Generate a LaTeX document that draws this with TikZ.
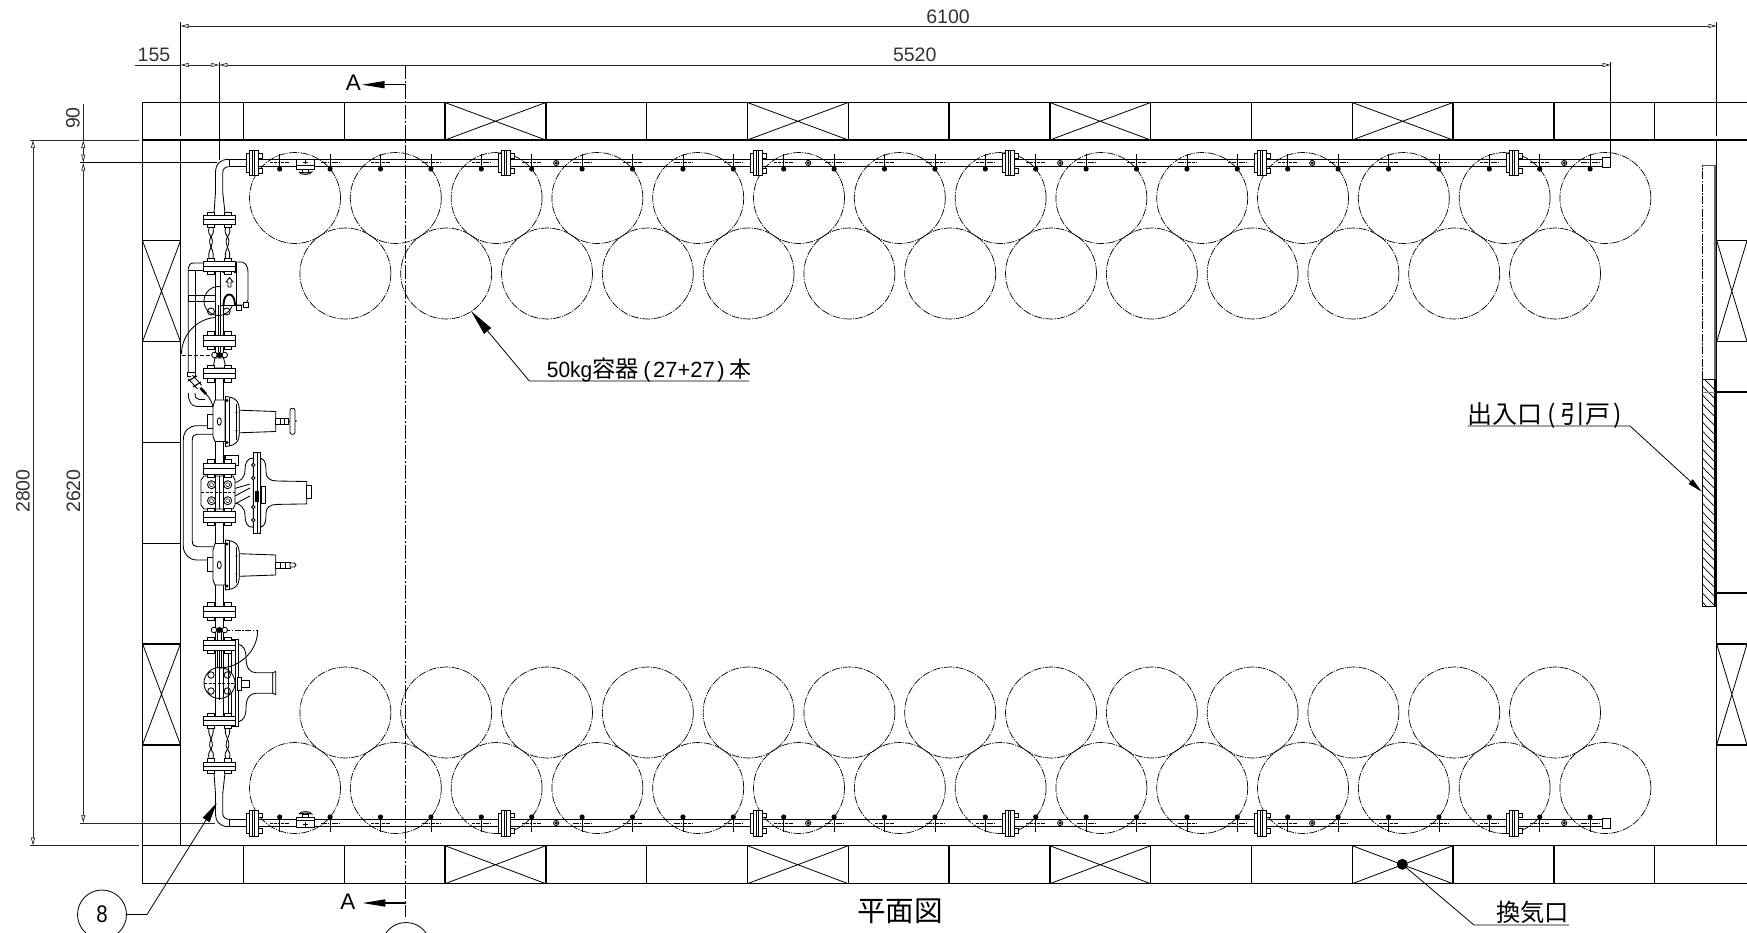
\documentclass[tikz,border=0pt]{standalone}
\usepackage{fontspec}
\usepackage{graphicx}
\setmainfont{Liberation Sans}
\newfontfamily\cjk{Noto Sans CJK JP}
\usetikzlibrary{arrows.meta}
\tikzset{
  wall/.style={line width=1.4pt,black},
  part/.style={line width=.85pt,black},
  dimln/.style={line width=.7pt,black!85},
  cylinder line/.style={line width=.7pt,black,dash pattern=on 8pt off 1.2pt on 1.2pt off 1.2pt},
  dimtip/.style={{Triangle[open,length=8pt,width=4pt]}-{Triangle[open,length=8pt,width=4pt]}},
  leader/.style={line width=.8pt,black},
  dimtext/.style={inner sep=0pt,font=\fontsize{19.5pt}{20pt}\selectfont,text=black!80},
  jptext/.style={inner sep=0pt,anchor=base west}
}
% ---- one wall X vent
\newcommand{\ventbox}[4]{\draw[line width=.8pt] (#1,#2)--(#3,#4) (#1,#4)--(#3,#2);}
% ---- flange on the long header
\newcommand{\hflange}[1]{%
  \draw[part,fill=white] (#1-7,153) rectangle (#1-4.3,172.5);
  \draw[part,fill=white] (#1+4.3,153) rectangle (#1+9,158);
  \draw[part,fill=white] (#1+4.3,168.5) rectangle (#1+9,173);
  \draw[part,fill=white] (#1-4.3,150) rectangle (#1+4.3,175.7);
  \draw[part] (#1-1,150)--(#1-1,175.7) (#1+1,150)--(#1+1,175.7);}
% ---- tee on the header
\newcommand{\htee}[1]{%
  \draw[line width=.75pt] (#1,154)--(#1,170);
  \draw[line width=.85pt,dash pattern=on 3pt off .6pt] (#1-9.3,162.3)--(#1-1.5,162.3) (#1+1.5,162.3)--(#1+9.3,162.3);
  \fill (#1,169) circle[radius=2.6pt];}
% ---- flange across the vertical line
\newcommand{\vfl}[2]{%
  \foreach \n in {211,227.5}{
    \draw[part,fill=white] (\n-3.5,#1-3.5) rectangle (\n+3.5,#1);
    \draw[part,fill=white] (\n-3.5,#2) rectangle (\n+3.5,#2+3.5);}
  \draw[part,fill=white] (203.3,#1) rectangle (235.7,#2);
  \draw[part] (203.3,#1*.5+#2*.5)--(235.7,#1*.5+#2*.5);}
% ---- pressure regulator with spring case
\newcommand{\smallreg}[1]{%
  \draw[part,fill=white] (207,#1-7.5) rectangle (213,#1+6.5);
  \draw[part,fill=white] (215,#1-21.5)--(225,#1-21.5)--(225,#1+20)--(215,#1+20)--(213,#1+15)--(213,#1-15)--cycle;
  \draw[part] (219.3,#1) ellipse[x radius=2pt,y radius=3.7pt];
  \draw[part,fill=white] (239.3,#1-11.3)--(275.7,#1-10)--(275.7,#1+10)--(239.3,#1+11.3)--cycle;
  \draw[part,fill=white] (225.5,#1-25) .. controls (235,#1-24) and (239.3,#1-21) .. (239.3,#1-11) -- (239.3,#1+11) .. controls (239.3,#1+21) and (235,#1+24) .. (225.5,#1+25) -- cycle;
  \draw[part] (229,#1-24)--(229,#1+24) (236,#1-18)--(236,#1+18);
  \fill (227,#1-21) circle[radius=1.7pt] (227,#1+21) circle[radius=1.7pt] (236.5,#1-9) circle[radius=1.2pt] (236.5,#1+9) circle[radius=1.2pt];}
% ---- header pipe, elbow, first flange and flexible tubes
\newcommand{\headerset}{%
  \draw[part] (229,159.3)--(1602.3,159.3) (229,166.7)--(1602.3,166.7);
  \draw[part,fill=white] (1602.3,157.7) rectangle (1610.7,167.7);
  \foreach \k in {0,...,26}{\htee{279.7+50.4*\k}}
  \foreach \k in {0,...,5}{\hflange{253.8+252*\k}}
  \foreach \k in {1,...,5}{
    \draw[part] (253.8+252*\k+50.4,163) circle[radius=2.6pt];
    \fill (253.8+252*\k+50.4,163) circle[radius=1.7pt];}
  \draw[part,fill=white] (296,159) rectangle (314.5,169);
  \draw[part] (296,165.5)--(314.5,165.5) (305,159.5)--(305,164) (302.5,162)--(307.5,162);
  \draw[part,fill=white] (302,169) rectangle (308,172);
  \draw[part,fill=white] (299,172)..controls (303,173) and (307,173)..(311.7,172)..controls (311.5,175) and (299.5,175.5)..(299,172);
  \draw[part] (229,159.3) .. controls (220,159.3) and (215.5,164) .. (215.5,173) -- (215.5,192) -- (214,213);
  \draw[part] (229,166.7) .. controls (225,166.7) and (222.7,169) .. (222.7,173) -- (222.7,192) -- (225,213);
  \draw[part] (229,159.3)--(229,166.7);
  \foreach \x in {211,227.5}{
    \draw[part] (\x-2,228) .. controls (\x-4,236) and (\x+2.5,236) .. (\x+1.2,243) .. controls (\x,250) and (\x-3,250) .. (\x-2,258);
    \draw[part] (\x+2,228) .. controls (\x+4,236) and (\x-2.5,236) .. (\x-1.2,243) .. controls (\x,250) and (\x+3,250) .. (\x+2,258);}
  \vfl{215.7}{224}}
\begin{document}
\begin{tikzpicture}[x=1pt,y=-1pt]
\useasboundingbox (0,0) rectangle (1747,933);
% ---------- cylinders
\foreach \k in {0,...,13}{
  \draw[cylinder line] (295+100.8*\k,198) circle[radius=45.5pt];
  \draw[cylinder line] (295+100.8*\k,788) circle[radius=45.5pt];}
\foreach \k in {0,...,12}{
  \draw[cylinder line] (345.4+100.8*\k,273.5) circle[radius=45.5pt];
  \draw[cylinder line] (345.4+100.8*\k,712.5) circle[radius=45.5pt];}
% ---------- walls
\draw[wall] (142.5,102.5)--(1747,102.5) (142.5,140)--(1747,140);
\draw[wall] (142.5,845.7)--(1747,845.7) (142.5,883.7)--(1747,883.7);
\draw[wall] (142.5,102.5)--(142.5,883.7) (180.5,140)--(180.5,845.7) (1716.7,140)--(1716.7,845.7);
\foreach \k in {1,...,15}{
  \draw[wall] (142.6+100.8*\k,102.5)--(142.6+100.8*\k,140);
  \draw[wall] (142.6+100.8*\k,845.7)--(142.6+100.8*\k,883.7);}
\foreach \k in {1,...,6}{\draw[wall] (142.5,140+100.8*\k)--(180.5,140+100.8*\k);}
\foreach \k in {3,6,9,12}{
  \ventbox{142.6+100.8*\k}{102.5}{243.4+100.8*\k}{140}
  \ventbox{142.6+100.8*\k}{845.7}{243.4+100.8*\k}{883.7}}
\ventbox{142.5}{240.8}{180.5}{341.6}
\ventbox{142.5}{643.7}{180.5}{744.8}
\foreach \y in {240.7,341.6,392,593,644,744.8}{\draw[wall] (1716.7,\y)--(1747,\y);}
\ventbox{1716.7}{240.7}{1747}{341.6}
\ventbox{1716.7}{644}{1747}{744.8}
% ---------- sliding door
\draw[line width=.7pt,dash pattern=on 8pt off 1.5pt on 1.5pt off 1.5pt] (1702.3,379.3)--(1702.3,165.3);
\draw[line width=.7pt,black!65] (1702.3,165.3)--(1715,165.3);
\draw[line width=1.1pt,black!60] (1715,165.3)--(1715,379.3);
\begin{scope}
  \clip (1702.3,379.3) rectangle (1715,606.7);
  \foreach \k in {0,...,26}{\draw[line width=.7pt] (1702.3,368+9*\k)--(1715,381+9*\k);}
\end{scope}
\draw[wall] (1702.3,379.3) rectangle (1715,606.7);
\draw[line width=.7pt,black!50] (1702.3,392)--(1715,392);
% ---------- header rows
\headerset
\begin{scope}[shift={(0,986)},yscale=-1]
  \headerset
\end{scope}
% ---------- vertical line, pipes at back
\draw[part] (215,271)--(215,717) (223,271)--(223,717);
% pilot tubing
\draw[part] (215,263)--(194,263) .. controls (190.5,263) and (188.3,265) .. (188.3,268) -- (188.3,373);
\draw[part] (215,270)--(195,270)--(195,373) (188.3,270)--(195,270);
\draw[part] (188.3,295)--(215,295) (188.3,301.7)--(215,301.7) (188.3,295)--(188.3,301.7);
% by-pass
\draw[part] (207,425.7)--(197,425.7) .. controls (189,425.7) and (183.3,431) .. (183.3,440) -- (183.3,546) .. controls (183.3,554) and (189,560) .. (197,560) -- (207,560);
\draw[part] (213,434.3)--(197,434.3) .. controls (194,434.3) and (192.3,436) .. (192.3,440) -- (192.3,541) .. controls (192.3,544.5) and (194,546.7) .. (197,546.7) -- (213,546.7);
% strainer
\draw[part,fill=white] (187.5,372) rectangle (195.5,376);
\draw[line width=6.4pt,black] (190.5,377)--(199.5,387);
\draw[line width=4.4pt,white] (190.5,377)--(199.5,387);
\draw[line width=1.1pt] (188,381)--(197,376) (193,387)--(201,382);
\draw[line width=2.6pt] (200.5,388)--(206,394);
\draw[part] (188.3,393) .. controls (188.3,401) and (191,406.5) .. (197,406.5) -- (213,406.5);
\draw[part] (195,393) .. controls (195,397) and (196,399) .. (199,399.5) -- (205,399.5);
\draw[part] (206,394) .. controls (210,398) and (212,402) .. (214,410);
% first group: pilot regulator
\draw[part] (218.5,301) circle[radius=14.5pt];
\draw[part] (211,311.5) circle[radius=3.5pt] (226.7,311.5) circle[radius=3.5pt];
\draw[part,fill=white] (220.5,262) rectangle (236.7,305);
\draw[part] (236.7,262)--(242,262) .. controls (246,263) and (248,267) .. (248,272) -- (248,300) -- (245,305) -- (236.7,305);
\draw[part,fill=white] (236,305) rectangle (241,310);
\draw[part,fill=white] (243,302) rectangle (248,307);
\draw[line width=1.9pt] (223.5,273) .. controls (223.5,258) and (235,258) .. (235,273);
\draw[line width=1.9pt] (223.5,305) .. controls (223.5,291) and (235,291) .. (235,305);
\draw[part,fill=white] (228,287) -- (228,282) -- (226,282) -- (229.5,277.5) -- (233,282) -- (231,282) -- (231,287) -- cycle;
\draw[part] (218,305)--(218,352) (220.5,305)--(220.5,352);
\draw[part] (181.5,354) .. controls (181.5,334) and (198,318) .. (216,317.5);
\draw[line width=.7pt,dash pattern=on 4pt off 2pt] (181.5,355)--(213,355);
\draw[part,fill=white] (215,358)--(223.5,358)--(226,368)--(213,368)--cycle;
\draw[part,fill=white] (214.5,355) circle[radius=2.8pt] (224.7,355) circle[radius=2.8pt];
\fill (219.5,355) circle[radius=3pt];
\vfl{261.7}{271}
\vfl{335}{346}
\vfl{368.5}{378.5}
% upstream and downstream regulators
\smallreg{421.5}
\draw[part,fill=white] (275.7,418) rectangle (288,424.5);
\draw[part] (280,418)--(280,424.5) (284,418)--(284,424.5);
\draw[part,fill=white,rounded corners=2pt] (290,408.3) rectangle (295,434.3);
\fill (296,421) circle[radius=.9pt];
\draw[part] (288,421)--(290,421);
\smallreg{565}
\draw[part,fill=white] (275.7,562) rectangle (290,568);
\draw[part] (280,562)--(280,568) (285,562)--(285,568);
\draw[part,fill=white] (290,563) -- (294.5,563) -- (296,565) -- (294.5,567) -- (290,567) -- cycle;
% main regulator
\draw[part,fill=white] (224,455) rectangle (238.3,465.7);
\draw[line width=1.8pt] (225,455)--(225,465.7);
\draw[part,fill=white] (233,483) .. controls (240,482) and (245,478) .. (245,470) .. controls (245,463) and (247,458) .. (253.3,458)
  -- (253.3,527.4) .. controls (247,527.4) and (245,522.4) .. (245,515.4) .. controls (245,507.4) and (240,503.4) .. (233,502.4) -- cycle;
\draw[part,fill=white] (260.7,458) .. controls (266,460) and (266,466) .. (266,472) .. controls (266,478) and (270,481) .. (277,481) -- (306.7,481.5)
  -- (306.7,503.9) -- (277,504.4) .. controls (270,504.4) and (266,507.4) .. (266,513.4) .. controls (266,519.4) and (266,525.4) .. (260.7,527.4) -- cycle;
\draw[part,fill=white] (306.7,485.7) rectangle (311.7,498.3);
\draw[part,fill=white] (253.3,452.3) rectangle (260.7,533.3);
\draw[part] (257,452.3)--(257,533.3);
\draw[part,fill=white] (261,486) rectangle (265,503);
\fill (255,491) rectangle (259,502);
\draw[part] (233,497)--(250,488) (233,505)--(250,496) (233,489)--(250,484);
\foreach \y in {465,478,507,520}{\draw[part,fill=white] (253.2,\y) circle[radius=1.7pt];}
\draw[part,fill=white] (201,480) -- (204,476) -- (233,476) -- (235,480) -- (235,505) -- (233,509) -- (204,509) -- (201,505) -- cycle;
\foreach \x in {211.5,227.7}{\foreach \y in {484.7,500.7}{
  \draw[part,fill=white] (\x,\y) circle[radius=4pt];
  \draw[line width=.5pt] (\x,\y) circle[radius=2pt];}}
\draw[line width=.6pt,dash pattern=on 3pt off 1.5pt] (201,492.7)--(235,492.7);
\draw[part] (219.5,476)--(219.5,509) (215,476)--(215,509) (223,476)--(223,509);
\vfl{463}{474}
\vfl{511.7}{522.3}
\vfl{606}{617}
% lower regulator
\draw[part,fill=white] (238.3,644) .. controls (244,646) and (246,650) .. (246,658) .. controls (246,668) and (250,672.7) .. (256,672.7) -- (272.7,672.7) -- (272.7,693.3) -- (256,693.3) .. controls (250,693.3) and (246,698) .. (246,708) .. controls (246,716) and (244,720) .. (238.3,722) -- cycle;
\draw[part,fill=white] (272.7,672.7) -- (275.7,671.5) -- (275.7,694.5) -- (272.7,693.3) -- cycle;
\draw[part,fill=white] (231.7,639) rectangle (238.3,726.7);
\draw[part] (235,639)--(235,726.7);
\draw[part,fill=white] (241,680) rectangle (249,687);
\draw[part,fill=white] (237,677) rectangle (241,690);
\draw[part,fill=white] (219.5,683) circle[radius=15.5pt];
\foreach \x in {211,227.3}{\foreach \y in {675,691}{\draw[part,fill=white] (\x,\y) circle[radius=3.2pt];}}
\draw[line width=.6pt,dash pattern=on 3pt off 1.5pt] (204,683)--(235,683);
\draw[part] (215,650)--(215,717) (223,650)--(223,717) (228.5,650)--(228.5,717) (219.5,640)--(219.5,700);
\draw[part] (217,632)--(217,668) (221.5,632)--(221.5,668);
\draw[part] (219,668) .. controls (240,668) and (257.7,651) .. (257.7,630);
\draw[line width=.7pt,dash pattern=on 6pt off 1.5pt on 1.5pt off 1.5pt] (224,630)--(257.7,630);
\draw[part,fill=white] (214,630) circle[radius=2.8pt] (224.7,630) circle[radius=2.8pt];
\fill (219.5,630) circle[radius=3pt];
\vfl{640.7}{650}
\vfl{716.7}{725}
% ---------- centre line and section marks
\draw[line width=.8pt,dash pattern=on 14pt off 2pt on 2pt off 2pt] (405.7,65)--(405.7,917);
\coordinate (atop) at (405.7,84.7);
\coordinate (abot) at (406,903);
\coordinate (atoptip) at (361.7,84.7);
\coordinate (abottip) at (362.3,903);
\draw[line width=1.6pt,-{Triangle[length=23pt,width=7pt]}] (atop)--(atoptip);
\draw[line width=1.6pt,-{Triangle[length=23pt,width=7pt]}] (abot)--(abottip);
\node[inner sep=0pt,font=\fontsize{22.5pt}{23pt}\selectfont] (secA1) at (353.3,83) {A};
\node[inner sep=0pt,font=\fontsize{22.5pt}{23pt}\selectfont] (secA2) at (347.8,902) {A};
% partial balloon at the bottom
\node[draw,circle,line width=.8pt,minimum size=49pt,inner sep=0pt] (ballA) at (406,947) {};
% ---------- dimensions
\coordinate (d1) at (180.5,26);
\coordinate (d2) at (1716.7,26);
\draw[line width=.75pt] (180.5,22)--(180.5,136.5);
\draw[line width=.75pt] (1716.7,22)--(1716.7,136);
\draw[dimln,dimtip] (d1)--(d2);
\node[dimtext] (t6100) at (948,16.7) {6100};
\coordinate (d3) at (180.5,65);
\coordinate (d4) at (219.3,65);
\coordinate (d5) at (1610.7,65);
\draw[line width=.75pt] (219.3,62)--(219.3,160);
\draw[line width=.75pt] (1610.7,62)--(1610.7,157);
\draw[dimln] (135,65)--(180.5,65);
\draw[dimln,dimtip] (d3)--(d4);
\draw[dimln,dimtip] (d4)--(d5);
\node[dimtext] (t155) at (154,54.7) {155};
\node[dimtext] (t5520) at (914.7,54.6) {5520};
\coordinate (v1) at (83.3,140);
\coordinate (v2) at (83.3,162.7);
\coordinate (v3) at (83.3,823);
\coordinate (v4) at (33,140);
\coordinate (v5) at (33,845.7);
\draw[dimln] (30,140)--(139,140);
\draw[line width=.75pt] (80,162.7)--(217,162.7);
\draw[dimln] (80,823)--(215,823);
\draw[dimln] (30,845.7)--(139,845.7);
\draw[dimln] (83.3,104.5)--(83.3,140);
\draw[dimln,dimtip] (v1)--(v2);
\draw[dimln,dimtip] (v2)--(v3);
\draw[dimln,dimtip] (v4)--(v5);
\node[dimtext,rotate=90] (t90) at (73,118) {90};
\node[dimtext,rotate=90] (t2620) at (73.5,491) {2620};
\node[dimtext,rotate=90] (t2800) at (23,491) {2800};
% ---------- labels and leaders
\node[draw,circle,line width=.8pt,minimum size=49pt,inner sep=0pt,font=\fontsize{24pt}{24pt}\selectfont] (b8) at (102,914.5) {\scalebox{.85}[1]{8}};
\coordinate (b8k) at (147,914.5);
\coordinate (b8t) at (216.7,803);
\draw[leader,-{Triangle[length=20pt,width=8pt]}] (b8.east)--(b8k)--(b8t);
\node[jptext] (lbl50) at (546.7,377.3) {\fontsize{22pt}{22pt}\selectfont\scalebox{.95}[1]{50kg}{\cjk\fontsize{23.3pt}{24pt}\selectfont 容器}\kern4.5pt(\kern2.5pt 27+27\kern2.5pt)\kern4.5pt{\cjk\fontsize{22pt}{24pt}\selectfont 本}};
\coordinate (l50a) at (749,381);
\coordinate (l50b) at (529.3,381);
\coordinate (l50t) at (471,311);
\draw[leader,-{Triangle[length=26pt,width=9pt]}] (l50a)--(l50b)--(l50t);
\node[jptext] (lbldoor) at (1467.7,423) {\cjk\fontsize{25pt}{26pt}\selectfont 出入口\kern5pt(\kern4pt 引戸\kern3pt)};
\coordinate (ldoora) at (1467.7,426);
\coordinate (ldoorb) at (1630,426);
\coordinate (ldoort) at (1701.7,491.7);
\draw[leader,-{Triangle[length=15pt,width=6pt]}] (ldoora)--(ldoorb)--(ldoort);
\node[jptext] (lblvent) at (1496,921) {\cjk\fontsize{24.3pt}{25pt}\selectfont 換気口};
\coordinate (lventa) at (1569,925);
\coordinate (lventb) at (1474,925);
\coordinate (lventd) at (1402.3,864.3);
\draw[leader] (lventa)--(lventb)--(lventd);
\fill (lventd) circle[radius=5.5pt];
\node[inner sep=0pt,font={\cjk\fontsize{28.6pt}{30pt}\selectfont}] (title) at (900,911) {平面図};
\end{tikzpicture}
\end{document}
